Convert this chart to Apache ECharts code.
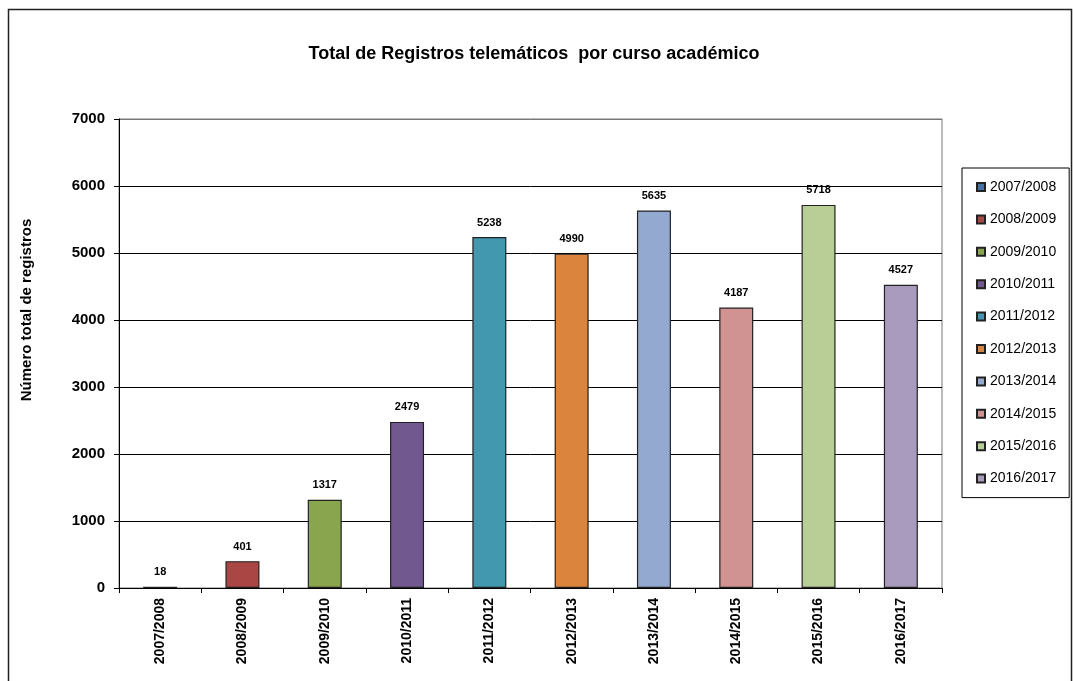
<!DOCTYPE html>
<html>
<head>
<meta charset="utf-8">
<script src="https://cdn.jsdelivr.net/npm/echarts@6/dist/echarts.min.js"></script>
<style>
html,body{margin:0;padding:0;background:#fff;}
#chart{width:1073px;height:681px;}
</style>
</head>
<body>
<div id="chart"></div>
<script>
const categories = ['2007/2008','2008/2009','2009/2010','2010/2011','2011/2012','2012/2013','2013/2014','2014/2015','2015/2016','2016/2017'];
const values = [18, 401, 1317, 2479, 5238, 4990, 5635, 4187, 5718, 4527];
const colors = ['#4572A7','#AA4643','#89A54E','#71588F','#4198AF','#DB843D','#93A9CF','#D19392','#B9CD96','#A99BBD'];
const yTicks = [0,1000,2000,3000,4000,5000,6000,7000];
const titleText = 'Total de Registros telemáticos  por curso académico';
const yAxisTitle = 'Número total de registros';

const chart = echarts.init(document.getElementById('chart'));
const font = 'Liberation Sans, Arial, sans-serif';

const series = categories.map((c, i) => ({
  name: c,
  type: 'bar',
  stack: 'all',
  barWidth: 34,
  data: values.map((v, j) => j === i ? v : null),
  itemStyle: { color: colors[i], borderColor: '#222', borderWidth: 1.2 },
  label: {
    show: true, position: 'top', distance: 9,
    fontFamily: font, fontSize: 11, fontWeight: 'bold', color: '#000'
  }
}));

chart.setOption({
  animation: false,
  backgroundColor: '#fff',
  title: {
    text: titleText,
    left: 529, top: 40, textAlign: 'center',
    textStyle: { fontFamily: font, fontSize: 18, fontWeight: 'bold', color: '#000' }
  },
  graphic: [{
    type: 'rect', shape: { x: 8.5, y: 9.5, width: 1063, height: 700 },
    style: { fill: 'none', stroke: '#222', lineWidth: 1.5 }, silent: true
  }, {
    type: 'text', x: 27, y: 310, rotation: Math.PI / 2,
    style: { text: yAxisTitle, fontFamily: font, fontSize: 15, fontWeight: 'bold', fill: '#000',
      align: 'center', verticalAlign: 'middle' }, silent: true
  }],
  legend: {
    orient: 'vertical',
    left: 962, top: 168,
    padding: [12, 13, 12, 14],
    itemGap: 18.4,
    itemWidth: 8, itemHeight: 8,
    itemTextGap: 2,
    borderColor: '#000', borderWidth: 1,
    icon: 'rect',
    textStyle: { fontFamily: font, fontSize: 14, color: '#000', lineHeight: 14 },
    data: categories
  },
  grid: { left: 119, top: 119, right: 131, bottom: 93, show: true, borderColor: '#777', borderWidth: 1 },
  xAxis: {
    type: 'category',
    data: categories,
    axisLine: { lineStyle: { color: '#000', width: 1 } },
    axisTick: { show: true, length: 5, lineStyle: { color: '#000' } },
    axisLabel: { rotate: 90, fontFamily: font, fontSize: 14, fontWeight: 'bold', color: '#000', margin: 10 }
  },
  yAxis: {
    type: 'value', min: 0, max: 7000, interval: 1000,
    axisLine: { show: true, lineStyle: { color: '#000', width: 1 } },
    axisTick: { show: true, length: 5, lineStyle: { color: '#000' } },
    axisLabel: { fontFamily: font, fontSize: 15, fontWeight: 'bold', color: '#000', margin: 14,
      formatter: v => yTicks.includes(v) ? String(v) : '' },
    splitLine: { lineStyle: { color: ['#000','#000','#000','#000','#000','#000','#000','#777'], width: 1 } }
  },
  series: series
});
</script>
</body>
</html>
